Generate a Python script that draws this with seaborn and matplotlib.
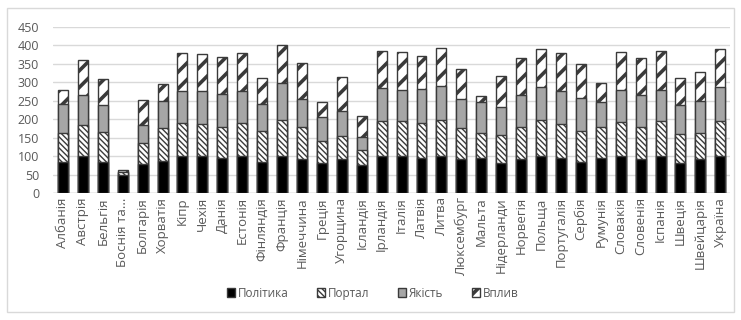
import matplotlib
matplotlib.use("Agg")
import matplotlib.pyplot as plt
from matplotlib.patches import Patch, Rectangle
import numpy as np
import seaborn as sns

countries = ["Албанія", "Австрія", "Бельгія", "Боснія та...", "Болгарія", "Хорватія",
             "Кіпр", "Чехія", "Данія", "Естонія", "Фінляндія", "Франція", "Німеччина",
             "Греція", "Угорщина", "Ісландія", "Ірландія", "Італія", "Латвія", "Литва",
             "Люксембург", "Мальта", "Нідерланди", "Норвегія", "Польща", "Португалія",
             "Сербія", "Румунія", "Словакія", "Словенія", "Іспанія", "Швеція",
             "Швейцарія", "Україна"]

polityka = [83, 99, 83, 50, 79, 86, 99, 99, 95, 99, 84, 99, 93, 81, 93, 75, 99, 99, 95,
            99, 92, 95, 81, 92, 99, 96, 83, 96, 99, 92, 99, 81, 92, 101]
portal = [79, 86, 82, 6, 56, 90, 90, 88, 85, 90, 83, 99, 85, 59, 60, 42, 95, 96, 94,
          99, 85, 67, 77, 88, 99, 90, 85, 82, 92, 88, 96, 79, 70, 93]
yakist = [78, 81, 74, 2, 50, 74, 86, 88, 88, 86, 74, 101, 76, 65, 70, 34, 90, 84, 93,
          93, 78, 84, 76, 86, 90, 91, 89, 69, 88, 86, 84, 79, 86, 92]
vplyv = [38, 94, 69, 3, 67, 45, 105, 102, 101, 103, 71, 102, 97, 41, 90, 58, 102, 104,
         90, 101, 80, 16, 83, 101, 102, 102, 92, 52, 104, 100, 106, 72, 79, 103]

series_names = ["Політика", "Портал", "Якість", "Вплив"]

sns.set_theme(style="white")
plt.rcParams["font.family"] = ["Open Sans", "DejaVu Sans"]
plt.rcParams["hatch.color"] = "black"

text_grey = "#595959"
edge_grey = "#3a3a3a"
portal_hatch = "\\" * 6
impact_hatch = "//"


def with_hatch_width(patch, lw):
    """Give a patch its own hatch line width, applied while it draws."""
    orig = patch.draw

    def draw(renderer):
        with plt.rc_context({"hatch.linewidth": lw}):
            try:
                patch.set_hatch_linewidth(lw)
            except AttributeError:
                pass
            orig(renderer)

    patch.draw = draw


fig = plt.figure(figsize=(7.41, 3.20), dpi=100)
ax = fig.add_axes([0.0715, 0.397, 0.914, 0.519])

c1 = np.array(polityka)
c2 = c1 + np.array(portal)
c3 = c2 + np.array(yakist)
c4 = c3 + np.array(vplyv)

# Stacked look: draw cumulative totals from the top segment down,
# each later layer covering the lower part of the one before it.
layers = [
    (c4, "white", impact_hatch, 2.6),
    (c3, "#a6a6a6", None, 1.0),
    (c2, "white", portal_hatch, 1.0),
    (c1, "black", None, 1.0),
]

n = len(countries)
for values, face, hatch, hlw in layers:
    sns.barplot(x=countries, y=values, color=face, saturation=1, width=0.5,
                edgecolor=edge_grey, linewidth=1.0, hatch=hatch, ax=ax,
                errorbar=None, zorder=3)
    if hatch:
        for p in ax.patches[-n:]:
            with_hatch_width(p, hlw)

ax.set_xlim(-0.5, n - 0.5)
ax.set_ylim(0, 450)
ax.set_yticks(np.arange(0, 451, 50))
ax.yaxis.grid(True, color="#d9d9d9", linewidth=1.0, zorder=0)
ax.xaxis.grid(False)
for s in ax.spines.values():
    s.set_visible(False)
ax.axhline(0, color="#bfbfbf", linewidth=1.0, zorder=2)
ax.set_xlabel("")
ax.set_ylabel("")
ax.tick_params(axis="y", length=0, pad=10, labelsize=9, labelcolor=text_grey)
ax.tick_params(axis="x", length=0, pad=3, labelsize=9.5, labelcolor=text_grey)
ax.set_xticks(range(n))
ax.set_xticklabels(countries, rotation=90)

handles = [
    Patch(facecolor="black", edgecolor=edge_grey, label=series_names[0]),
    Patch(facecolor="white", edgecolor=edge_grey, hatch=portal_hatch, label=series_names[1]),
    Patch(facecolor="#a6a6a6", edgecolor=edge_grey, label=series_names[2]),
    Patch(facecolor="white", edgecolor=edge_grey, hatch=impact_hatch, label=series_names[3]),
]
leg = fig.legend(handles=handles, loc="center", bbox_to_anchor=(0.503, 0.084), ncol=4,
                 frameon=False, fontsize=8.5, labelcolor=text_grey, handlelength=0.7,
                 handleheight=0.7, handletextpad=0.25, columnspacing=2.4)
for h, lw in zip(leg.get_patches(), [1.0, 1.0, 1.0, 2.6]):
    with_hatch_width(h, lw)

fig.add_artist(Rectangle((0.009, 0.025), 0.982, 0.95, transform=fig.transFigure,
                         fill=False, edgecolor="#d9d9d9", linewidth=1.0))

fig.savefig("out.png", dpi=100, facecolor="white")
